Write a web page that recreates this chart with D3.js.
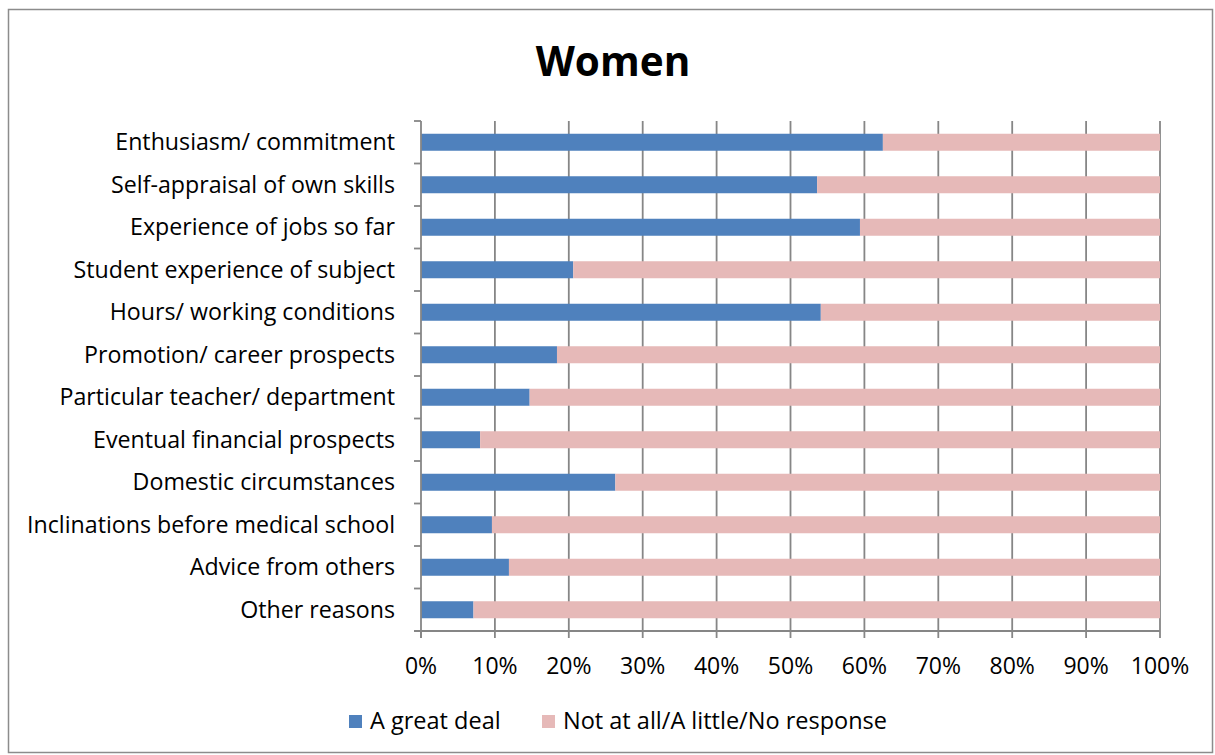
<!DOCTYPE html>
<html><head><meta charset="utf-8">
<script src="https://cdn.jsdelivr.net/npm/d3@7"></script>
<style>body{margin:0;background:#fff}svg{display:block}</style>
</head><body>
<svg id="c" width="1215" height="755"></svg>
<script>
const categories = ["Enthusiasm/ commitment","Self-appraisal of own skills","Experience of jobs so far","Student experience of subject","Hours/ working conditions","Promotion/ career prospects","Particular teacher/ department","Eventual financial prospects","Domestic circumstances","Inclinations before medical school","Advice from others","Other reasons"];
const greatDeal = [62.5,53.6,59.4,20.6,54.1,18.4,14.7,8.0,26.3,9.6,11.9,7.1];
const notMuch = greatDeal.map(v => 100 - v);
const seriesNames = ["A great deal","Not at all/A little/No response"];
const colors = ["#4F81BD","#E6B9B8"];
const tickValues = [0,10,20,30,40,50,60,70,80,90,100];

const font = "'Open Sans', sans-serif";
const svg = d3.select("#c");
svg.append("rect").attr("x",8.5).attr("y",9.5).attr("width",1204).attr("height",743)
  .attr("fill","#fff").attr("stroke","#8c8c8c").attr("stroke-width",1.5);

const L=421, R=1160, T=121, B=631;
const x = d3.scaleLinear().domain([0,100]).range([L,R]);
const y = d3.scaleBand().domain(categories).range([T,B]).paddingInner(0.6).paddingOuter(0.3);
const yb = d3.scaleBand().domain(categories).range([T,B]);
const gc = "#868686", gw = 1.8;

svg.append("g").selectAll("line").data(tickValues.slice(1)).join("line")
  .attr("x1",d=>x(d)).attr("x2",d=>x(d)).attr("y1",T).attr("y2",B)
  .attr("stroke",gc).attr("stroke-width",gw);

const stack = d3.stack().keys([0,1])(categories.map((c,i)=>({0:greatDeal[i],1:notMuch[i],cat:c})));
svg.append("g").selectAll("g").data(stack).join("g").attr("fill",(d,i)=>colors[i])
  .selectAll("rect").data(d=>d).join("rect")
  .attr("x",d=>x(d[0])).attr("width",d=>x(d[1])-x(d[0]))
  .attr("y",d=>y(d.data.cat)).attr("height",y.bandwidth());

svg.append("line").attr("x1",L).attr("x2",L).attr("y1",T).attr("y2",B+7).attr("stroke",gc).attr("stroke-width",gw);
const yTicks = categories.map(c=>yb(c)).concat([B]);
svg.append("g").selectAll("line").data(yTicks).join("line")
  .attr("x1",L-7).attr("x2",L).attr("y1",d=>d).attr("y2",d=>d).attr("stroke",gc).attr("stroke-width",gw);
svg.append("line").attr("x1",L-7).attr("x2",R).attr("y1",B).attr("y2",B).attr("stroke",gc).attr("stroke-width",gw);
svg.append("g").selectAll("line").data(tickValues).join("line")
  .attr("x1",d=>x(d)).attr("x2",d=>x(d)).attr("y1",B).attr("y2",B+7).attr("stroke",gc).attr("stroke-width",gw);

svg.append("g").selectAll("text").data(categories).join("text")
  .attr("x",395).attr("y",d=>yb(d)+yb.bandwidth()/2).attr("dy","0.35em")
  .attr("text-anchor","end").attr("font-family",font).attr("font-size",23.2).attr("fill","#000").text(d=>d);

svg.append("g").selectAll("text").data(tickValues).join("text")
  .attr("x",d=>x(d)).attr("y",674).attr("text-anchor","middle")
  .attr("font-family",font).attr("font-size",23).attr("fill","#000").text(d=>d+"%");

svg.append("text").attr("x",613).attr("y",76).attr("text-anchor","middle")
  .attr("font-family",font).attr("font-weight","bold").attr("font-size",40.5).text("Women");

const lg = [{x:349,tx:370},{x:542,tx:563}];
seriesNames.forEach((n,i)=>{
  svg.append("rect").attr("x",lg[i].x).attr("y",715).attr("width",13).attr("height",13).attr("fill",colors[i]);
  svg.append("text").attr("x",lg[i].tx).attr("y",729).attr("font-family",font).attr("font-size",23.5).text(n);
});
</script>
</body></html>
